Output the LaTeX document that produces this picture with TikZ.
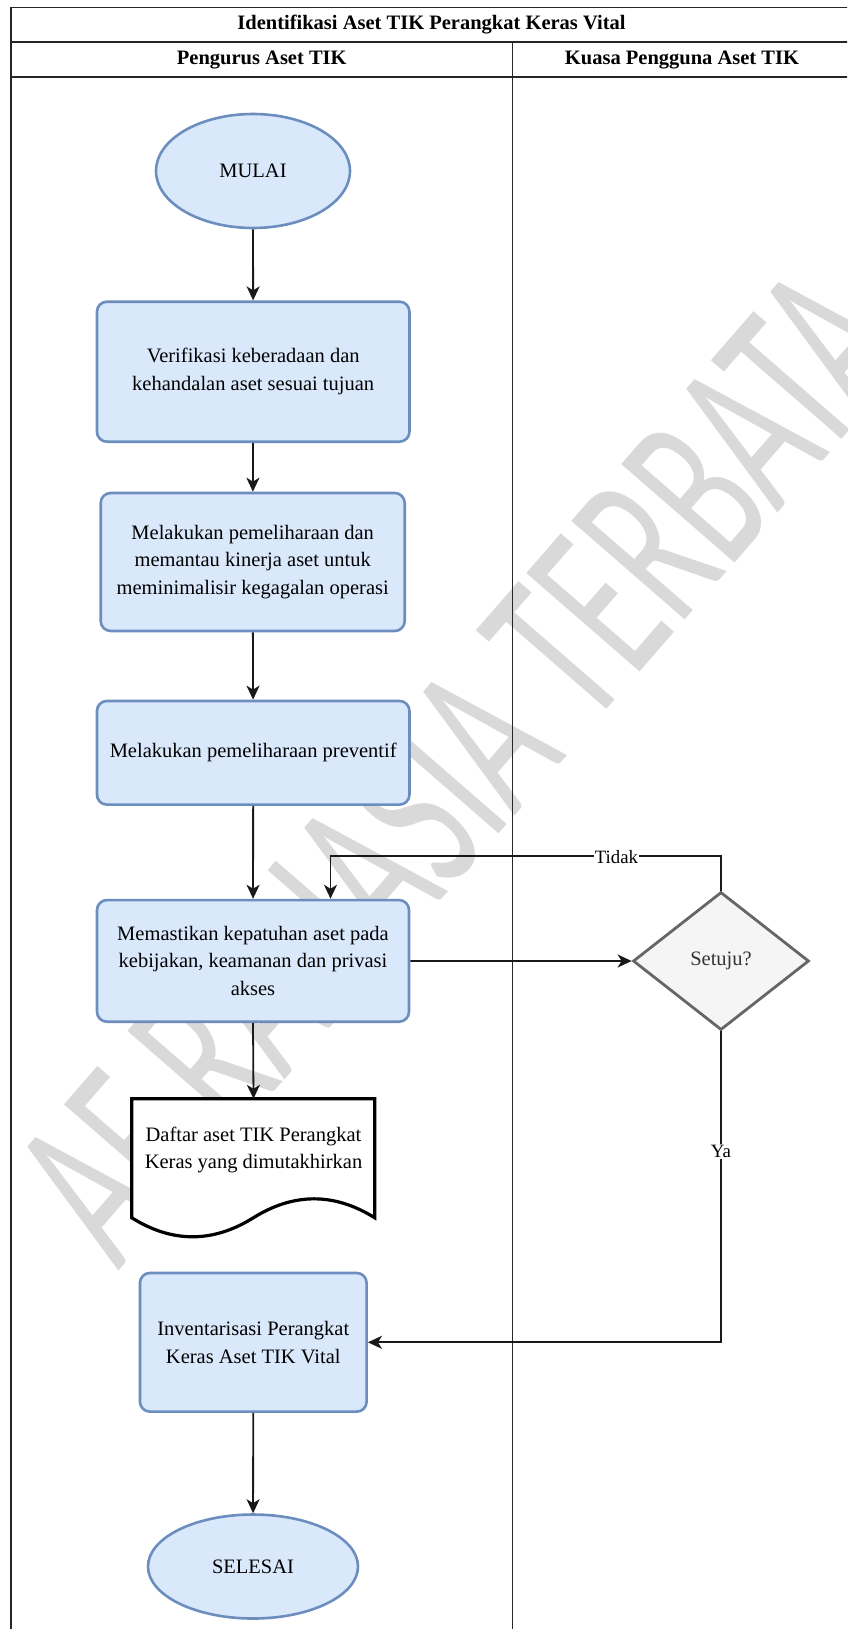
\documentclass[tikz,border=0pt]{standalone}
\usepackage{fontspec}
\setmainfont{Liberation Serif}
\newfontfamily\wmfont{Carlito}
\usetikzlibrary{shapes.geometric,arrows.meta,calc}
\definecolor{procfill}{HTML}{DAE8FC}
\definecolor{procline}{HTML}{6C8EBF}
\definecolor{decfill}{HTML}{F5F5F5}
\definecolor{decline}{HTML}{666666}
\definecolor{dectext}{HTML}{333333}
\definecolor{wmgray}{HTML}{D9D9D9}
\begin{document}
\begin{tikzpicture}[x=1pt,y=-1pt,
  every node/.style={font=\fontsize{20.5}{27.5}\selectfont, inner sep=0pt, align=center},
  proc/.style={rectangle, rounded corners=10pt, draw=procline, fill=procfill, line width=2.6pt},
  term/.style={ellipse, draw=procline, fill=procfill, line width=2.6pt},
  decide/.style={diamond, draw=decline, fill=decfill, line width=2.8pt, text=dectext},
  docshape/.style={draw=black, fill=white, line width=3.2pt, line join=miter},
  flow/.style={line width=1.8pt, draw=black!90, -{Stealth[length=14pt,width=13pt,inset=4pt]}},
  lane/.style={line width=1.6pt, draw=black!85},
  lbl/.style={fill=white, font=\fontsize{18.8}{22}\selectfont, inner sep=1pt},
]
\useasboundingbox (0,0) rectangle (847,1629);
\clip (0,0) rectangle (847,1629);
\fill[white] (0,0) rectangle (847,1629);

% watermark
\node[rotate=49, anchor=base, text=wmgray] (wm) at (516.4,813.7)
  {\scalebox{0.6}[1]{\wmfont\fontsize{234}{234}\selectfont AF RAHASIA TERBATA}};

% swimlane frame
\draw[lane] (11,1700) -- (11,7.5) -- (852,7.5) -- (852,1700);
\draw[lane] (11,42.3) -- (852,42.3);
\draw[lane] (11,77.3) -- (852,77.3);
\draw[lane] (512.5,42.3) -- (512.5,1700);
\node[font=\bfseries\fontsize{20.5}{24}\selectfont] (title) at (431.5,25) {Identifikasi Aset TIK Perangkat Keras Vital};
\node[font=\bfseries\fontsize{20.5}{24}\selectfont] (laneA) at (261.8,60) {Pengurus Aset TIK};
\node[font=\bfseries\fontsize{20.5}{24}\selectfont] (laneB) at (682,60) {Kuasa Pengguna Aset TIK};

% steps
\node[term, minimum width=194pt, minimum height=114pt] (start) at (253,171) {MULAI};
\node[proc, minimum width=312.5pt, minimum height=140pt] (b1) at (253.2,371.7)
  {Verifikasi keberadaan dan\\kehandalan aset sesuai tujuan};
\node[proc, minimum width=304pt, minimum height=138pt] (b2) at (252.7,562)
  {Melakukan pemeliharaan dan\\memantau kinerja aset untuk\\meminimalisir kegagalan operasi};
\node[proc, minimum width=312.5pt, minimum height=103.7pt] (b3) at (253.2,752.8)
  {Melakukan pemeliharaan preventif};
\node[proc, minimum width=312pt, minimum height=121.7pt] (b4) at (253,960.9)
  {Memastikan kepatuhan aset pada\\kebijakan, keamanan dan privasi\\akses};
\node[decide, minimum width=176pt, minimum height=138pt] (dec) at (721,961) {Setuju?};

% document
\node[minimum width=243pt, minimum height=102pt] (doc) at (253.5,1150) {};
\draw[docshape, shift={(doc.north west)}] (0,0) -- (243,0) -- (243,119)
  .. controls (202.5,93.7) and (162,93.7) .. (121.5,119)
  .. controls (81,144.3) and (40.5,144.3) .. (0,119) -- cycle;
\node (doctext) at (doc.center) {Daftar aset TIK Perangkat\\Keras yang dimutakhirkan};

\node[proc, minimum width=226.7pt, minimum height=138.7pt] (b5) at (253.3,1342.3)
  {Inventarisasi Perangkat\\Keras Aset TIK Vital};
\node[term, minimum width=210pt, minimum height=104pt] (stop) at (253,1566.5) {SELESAI};

% connectors
\draw[flow] (start) -- (b1);
\draw[flow] (b1) -- (b2);
\draw[flow] (b2) -- (b3);
\draw[flow] (b3) -- (b4);
\draw[flow] (b4.east) -- (dec.west);
\coordinate (loopin) at ($(b4.north)+(77.5,0)$);
\draw[flow] (dec.north) -- ++(0,-34.6) -| (loopin);
\draw[flow] (dec.south) |- (b5.east);
\draw[flow] (b4.south) -- (doc.north);
\draw[flow] (b5) -- (stop);
\node[lbl] (tidak) at (616.5,857.4) {Tidak};
\node[lbl] (ya) at (721,1151.6) {Ya};
\end{tikzpicture}
\end{document}
